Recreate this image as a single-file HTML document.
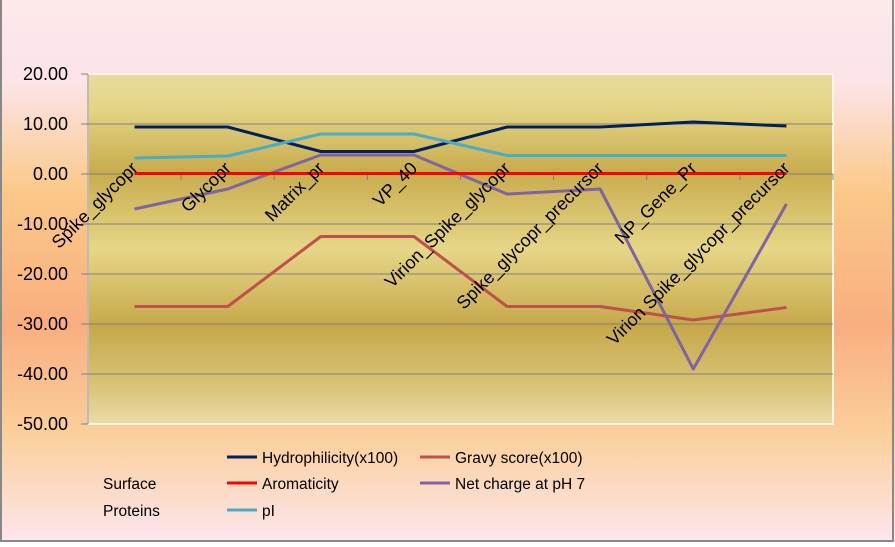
<!DOCTYPE html>
<html><head><meta charset="utf-8"><style>
html,body{margin:0;padding:0}
body{width:895px;height:542px;overflow:hidden;font-family:"Liberation Sans",sans-serif}
</style></head><body>
<svg width="895" height="542" xmlns="http://www.w3.org/2000/svg" id="svg">
<defs>
<linearGradient id="bg" x1="0" y1="0" x2="0" y2="1">
<stop offset="0" stop-color="#fde8ea"/><stop offset="0.15" stop-color="#fce4e8"/>
<stop offset="0.35" stop-color="#fbc98a"/><stop offset="0.6" stop-color="#f9ae80"/>
<stop offset="0.8" stop-color="#fbcf9a"/><stop offset="1" stop-color="#fde6ee"/>
</linearGradient>
<linearGradient id="pg" x1="0" y1="0" x2="0" y2="1">
<stop offset="0" stop-color="#e7dc9f"/><stop offset="0.1" stop-color="#e4d484"/>
<stop offset="0.28" stop-color="#c8ac4e"/><stop offset="0.5" stop-color="#e6d687"/>
<stop offset="0.72" stop-color="#c6a84a"/><stop offset="0.9" stop-color="#dac57a"/>
<stop offset="1" stop-color="#e8dca8"/>
</linearGradient>
</defs>
<rect x="0" y="0" width="895" height="542" fill="url(#bg)"/>
<rect x="1" y="-2" width="892" height="543" fill="none" stroke="#888" stroke-width="2"/>
<rect x="88" y="74" width="745" height="350" fill="url(#pg)" stroke="#fff4e8" stroke-width="2"/>
<g id="grid"></g><g id="series"></g><g id="labels"></g>
<g font-size="15.5" fill="#000">
<text x="103" y="489">Surface</text>
<text x="103" y="516">Proteins</text>
<line x1="227" y1="457" x2="257" y2="457" stroke="#002060" stroke-width="3"/><text x="262" y="463">Hydrophilicity(x100)</text>
<line x1="420" y1="457" x2="450" y2="457" stroke="#c0504d" stroke-width="3"/><text x="455" y="463">Gravy score(x100)</text>
<line x1="227" y1="483" x2="257" y2="483" stroke="#ff0000" stroke-width="3"/><text x="262" y="489">Aromaticity</text>
<line x1="420" y1="483" x2="450" y2="483" stroke="#8064a2" stroke-width="3"/><text x="455" y="489">Net charge at pH 7</text>
<line x1="227" y1="510" x2="257" y2="510" stroke="#4bacc6" stroke-width="3"/><text x="262" y="516">pI</text>
</g>
</svg>
<script>
const categories=["Spike_glycopr","Glycopr","Matrix_pr","VP_40","Virion_Spike_glycopr","Spike_glycopr_precursor","NP_Gene_Pr","Virion Spike_glycopr_precursor"];
const hydrophilicity=[9.4,9.4,4.5,4.5,9.4,9.4,10.4,9.6];
const gravy=[-26.5,-26.5,-12.5,-12.5,-26.5,-26.5,-29.2,-26.7];
const aromaticity=[0.1,0.1,0.1,0.1,0.1,0.1,0.1,0.1];
const netCharge=[-7,-3,3.8,3.8,-4,-3,-39,-6];
const pI=[3.2,3.6,8,8,3.7,3.7,3.7,3.7];
const yTicks=[20,10,0,-10,-20,-30,-40,-50];
const NS="http://www.w3.org/2000/svg";
const X0=88,X1=833,Y20=74,Y50=424;
function y(v){return Y20+(20-v)*(Y50-Y20)/70;}
function x(i){return X0+(i+0.5)*(X1-X0)/categories.length;}
function mk(t,a,p){const e=document.createElementNS(NS,t);for(const k in a)e.setAttribute(k,a[k]);p.appendChild(e);return e;}
const grid=document.getElementById('grid');
yTicks.forEach(v=>{
  if(v!==20&&v!==-50){const l=mk('line',{x1:X0,x2:X1,y1:y(v),y2:y(v),stroke:'#7f7f7f','stroke-width':1},grid);
  
  }
  mk('line',{x1:X0-7,x2:X0,y1:y(v),y2:y(v),stroke:'#7f7f7f'},grid);
  const t=mk('text',{x:68,y:y(v)+6,'text-anchor':'end','font-size':18,fill:'#000'},grid);
  
  
  t.textContent=v.toFixed(2);
});
mk('line',{x1:X0,x2:X0,y1:Y20,y2:Y50,stroke:'#7f7f7f'},grid);
mk('line',{x1:X0,x2:X1,y1:y(0),y2:y(0),stroke:'#7f7f7f'},grid);
for(let i=0;i<=categories.length;i++){const tx=X0+i*(X1-X0)/categories.length;mk('line',{x1:tx,x2:tx,y1:y(0),y2:y(0)+6,stroke:'#7f7f7f'},grid);}
const ser=document.getElementById('series');
[[hydrophilicity,'#002060','series-hydrophilicity'],[gravy,'#c0504d','series-gravy'],[netCharge,'#8064a2','series-net-charge'],[pI,'#4bacc6','series-pi'],[aromaticity,'#ff0000','series-aromaticity']].forEach(([d,c,n])=>{
  const p=mk('polyline',{points:d.map((v,i)=>x(i)+','+y(v)).join(' '),fill:'none',stroke:c,'stroke-width':3,'stroke-linejoin':'round'},ser);
  
  
});
const lab=document.getElementById('labels');
categories.forEach((c,i)=>{
  const ax=x(i)-7, ay=y(0)-16;
  const t=mk('text',{x:ax,y:ay,'text-anchor':'end','font-size':18,fill:'#000',transform:`rotate(-45 ${ax} ${ay})`,dy:'0.9em'},lab);
  
  
  t.textContent=c;
});
</script>
</body></html>
